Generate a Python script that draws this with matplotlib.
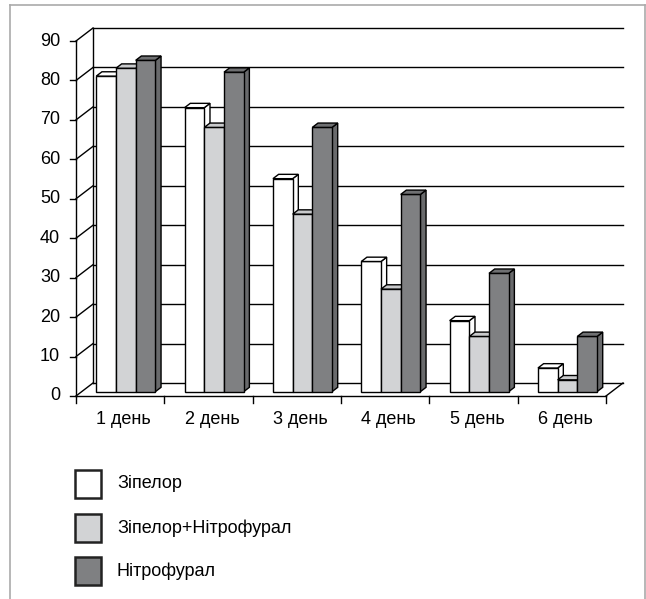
import matplotlib
matplotlib.use('Agg')
import matplotlib.pyplot as plt
from matplotlib.patches import Polygon, Rectangle
from matplotlib.lines import Line2D

plt.rcParams['font.family'] = ['Liberation Sans', 'DejaVu Sans']

days = ['1 день', '2 день', '3 день', '4 день', '5 день', '6 день']
series_names = ['Зіпелор', 'Зіпелор+Нітрофурал', 'Нітрофурал']
zipelor = [80, 72, 54, 33, 18, 6]
zipelor_nitro = [82, 67, 45, 26, 14, 3]
nitro = [84, 81, 67, 50, 30, 14]
y_ticks = [0, 10, 20, 30, 40, 50, 60, 70, 80, 90]

series = [zipelor, zipelor_nitro, nitro]
# front, top, side colours for each series
face_cols = [('white', 'white', 'white'),
             ('#d2d3d5', '#c9cacc', '#bdbec0'),
             ('#7f8082', '#6f7072', '#696a6c')]

fig = plt.figure(figsize=(6.46, 5.99), dpi=100)
W, H = 646, 599
ax = fig.add_axes([76 / W, 1 - 396 / H, 530 / W, 355 / H])
ax.set_xlim(0, 6)
ax.set_ylim(0, 90)
ax.axis('off')

# depth of the wall in data units
px_x = 530 / 6
px_y = 355 / 90
dx = 17 / px_x
dy = 13 / px_y
lw = 1.0

# back wall grid lines + left wall diagonals
for v in y_ticks:
    ax.plot([dx, 6 + dx], [v + dy, v + dy], color='black', lw=lw, zorder=1, clip_on=False)
    ax.plot([0, dx], [v, v + dy], color='black', lw=lw, zorder=1, clip_on=False)
ax.plot([dx, dx], [dy, 90 + dy], color='black', lw=lw, zorder=1, clip_on=False)
# floor
ax.plot([6, 6 + dx], [0, dy], color='black', lw=lw, zorder=1, clip_on=False)
# axes
ax.plot([0, 0], [0, 90], color='black', lw=lw, zorder=1, clip_on=False)
ax.plot([0, 6], [0, 0], color='black', lw=lw, zorder=1, clip_on=False)

# y ticks and labels
for v in y_ticks:
    ax.plot([-6 / px_x, 0], [v, v], color='black', lw=lw, clip_on=False)
    ax.text(-16 / px_x, v, str(v), ha='right', va='center', fontsize=13)

# x ticks and labels
for i in range(7):
    ax.plot([i, i], [0, -7 / px_y], color='black', lw=lw, clip_on=False)
for i, d in enumerate(days):
    ax.text(i + 0.5 + 0.04, -23 / px_y, d, ha='center', va='center', fontsize=13)

# bars
ox, oy = dx / 3, dy / 3
w = 0.223
z = 2
for i in range(len(days)):
    left0 = i + 0.5 + ox - 1.5 * w
    for k, vals in enumerate(series):
        v = vals[i]
        x0 = left0 + k * w
        front, top, side = face_cols[k]
        ax.bar(x0, v, width=w, bottom=oy, align='edge', color=front,
               edgecolor='black', linewidth=lw, zorder=z, clip_on=False)
        ax.add_patch(Polygon([(x0, v + oy), (x0 + ox, v + 2 * oy),
                              (x0 + w + ox, v + 2 * oy), (x0 + w, v + oy)],
                             closed=True, facecolor=top, edgecolor='black',
                             linewidth=lw, zorder=z, clip_on=False))
        ax.add_patch(Polygon([(x0 + w, oy), (x0 + w, v + oy),
                              (x0 + w + ox, v + 2 * oy), (x0 + w + ox, 2 * oy)],
                             closed=True, facecolor=side, edgecolor='black',
                             linewidth=lw, zorder=z - 0.5, clip_on=False))
        z += 1

# legend
legend_y = [484, 528, 571]
for k, name in enumerate(series_names):
    yc = legend_y[k]
    fig.add_artist(Rectangle((75 / W, 1 - (yc + 14) / H), 26 / W, 28 / H,
                             facecolor=face_cols[k][0], edgecolor='#222222',
                             linewidth=1.8, transform=fig.transFigure))
    fig.text(117 / W, 1 - yc / H, name, ha='left', va='center', fontsize=13)

# outer frame
frame_col = '#aaaaaa'
fig.add_artist(Line2D([10 / W, 10 / W], [0, 1 - 5 / H], color=frame_col, lw=1.2))
fig.add_artist(Line2D([10 / W, 645 / W], [1 - 5 / H, 1 - 5 / H], color=frame_col, lw=1.2))
fig.add_artist(Line2D([645 / W, 645 / W], [0, 1 - 5 / H], color=frame_col, lw=1.2))

fig.savefig('out.png', dpi=100)
